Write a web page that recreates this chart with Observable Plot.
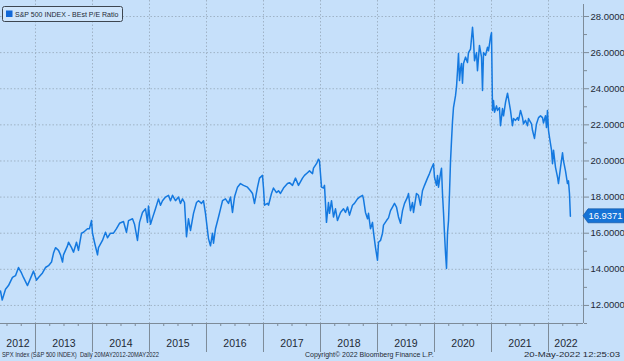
<!DOCTYPE html>
<html><head><meta charset="utf-8">
<script src="https://cdn.jsdelivr.net/npm/d3@7"></script>
<script src="https://cdn.jsdelivr.net/npm/@observablehq/plot@0.6"></script>
<style>
html,body{margin:0;padding:0;background:#c6e0fa;}
#chart{width:624px;height:361px;overflow:hidden;}
</style></head><body><div id="chart"></div>
<script>
// Decimal-year dates
const dates = [
2012.386,2012.416,2012.474,2012.526,2012.596,2012.649,2012.702,2012.754,2012.789,2012.860,2012.912,2012.965,
2013.018,2013.053,2013.123,2013.175,2013.228,2013.281,2013.316,2013.351,2013.404,2013.439,2013.474,2013.491,
2013.561,2013.579,2013.632,2013.667,2013.719,2013.754,2013.807,2013.842,2013.912,2013.947,2013.982,
2014.000,2014.035,2014.088,2014.105,2014.175,2014.228,2014.263,2014.316,2014.368,2014.421,2014.474,2014.544,
2014.596,2014.632,2014.702,2014.737,2014.789,2014.825,2014.877,2014.930,2014.965,2014.982,
2015.018,2015.053,2015.105,2015.158,2015.193,2015.228,2015.281,2015.333,2015.368,2015.404,2015.456,2015.509,
2015.544,2015.579,2015.614,2015.649,2015.684,2015.719,2015.772,2015.825,2015.860,2015.912,2015.947,2015.982,
2016.035,2016.070,2016.105,2016.123,2016.158,2016.211,2016.246,2016.281,2016.333,2016.386,2016.421,2016.456,
2016.491,2016.544,2016.596,2016.649,2016.719,2016.772,2016.807,2016.842,2016.895,2016.930,2016.982,
2017.000,2017.018,2017.070,2017.088,2017.140,2017.175,2017.228,2017.263,2017.298,2017.351,2017.421,2017.456,
2017.509,2017.561,2017.614,2017.684,2017.719,2017.772,2017.807,2017.860,2017.877,2017.930,2017.965,2017.982,
2018.018,2018.053,2018.070,2018.105,2018.140,2018.158,2018.193,2018.228,2018.263,2018.298,2018.351,2018.404,
2018.439,2018.474,2018.509,2018.561,2018.596,2018.649,2018.684,2018.737,2018.754,2018.789,2018.825,2018.842,
2018.877,2018.912,2018.930,2018.965,
2019.000,2019.018,2019.053,2019.088,2019.105,2019.158,2019.193,2019.228,2019.263,2019.298,2019.333,2019.368,
2019.404,2019.439,2019.474,2019.526,2019.544,2019.579,2019.614,2019.632,2019.684,2019.719,2019.754,2019.789,
2019.825,2019.877,2019.912,2019.947,2019.982,
2020.000,2020.035,2020.053,2020.070,2020.105,2020.123,2020.140,2020.158,2020.175,2020.193,2020.211,2020.228,
2020.246,2020.263,2020.281,2020.298,2020.316,2020.333,2020.368,2020.386,2020.404,2020.421,2020.439,2020.456,
2020.474,2020.491,2020.509,2020.544,2020.579,2020.596,2020.632,2020.667,2020.684,2020.702,2020.737,2020.754,
2020.789,2020.825,2020.842,2020.860,2020.895,2020.930,2020.947,2020.982,
2021.000,2021.018,2021.035,2021.053,2021.088,2021.105,2021.140,2021.158,2021.193,2021.211,2021.246,2021.281,
2021.298,2021.333,2021.368,2021.386,2021.421,2021.456,2021.474,2021.509,2021.544,2021.561,2021.596,2021.632,
2021.649,2021.702,2021.719,2021.754,2021.789,2021.825,2021.860,2021.895,2021.912,2021.947,2021.965,2021.982,
2022.000,2022.018,2022.053,2022.070,2022.088,2022.123,2022.158,2022.175,2022.211,2022.246,2022.263,2022.298,
2022.333,2022.350,2022.368,2022.384
];
// S&P 500 best (forward) P/E ratio
const peRatio = [
12.8,12.3,12.9,13.1,13.55,13.65,14.1,13.8,13.55,13.1,13.5,13.9,
13.4,13.55,13.8,14.1,14.2,14.4,14.9,15.2,15.05,14.8,14.4,14.8,
15.3,15.5,15.2,14.95,15.5,15.05,16.0,16.05,16.25,16.25,16.7,
16.0,15.5,14.8,15.2,15.6,16.05,15.75,16.0,16.0,16.25,16.55,16.65,
16.05,16.7,16.8,16.5,15.6,16.6,17.15,17.35,16.6,17.5,
16.5,16.85,17.35,17.9,17.55,17.8,18.0,18.1,17.8,18.1,17.8,18.0,
17.65,17.9,17.7,15.8,16.8,16.15,17.1,17.7,17.8,17.65,17.8,17.1,
15.7,15.3,16.0,15.45,16.25,16.9,17.35,17.8,17.9,17.65,18.0,17.15,
18.0,18.55,18.75,18.65,18.55,18.35,18.2,17.65,18.55,19.05,19.2,
18.5,17.55,17.65,17.55,18.2,18.5,18.25,18.35,18.2,18.5,18.75,18.8,
18.65,19.05,18.65,19.05,19.2,19.35,19.45,19.3,19.6,19.85,20.1,20.0,
18.55,18.5,18.65,16.6,17.7,17.1,17.8,16.9,17.35,16.7,17.15,17.35,
17.15,17.45,17.0,17.55,17.65,17.9,18.0,18.1,17.9,17.15,16.8,17.1,
16.25,16.6,16.05,15.2,
14.5,15.5,15.6,16.0,16.45,16.7,16.85,17.25,17.45,17.65,17.45,16.9,
16.55,17.25,17.65,18.0,18.2,17.25,17.7,17.15,18.2,18.1,17.55,18.35,
18.65,19.05,19.3,19.6,19.85,
19.1,18.65,19.2,18.55,19.3,19.6,18.2,17.15,16.0,14.9,14.05,16.0,
16.7,18.2,20.0,21.1,22.2,22.95,23.6,24.1,25.0,25.95,24.45,25.1,
25.4,24.3,25.4,25.75,25.45,26.0,26.2,27.4,26.7,25.55,26.0,25.0,
26.4,25.75,23.9,26.0,25.85,26.3,26.1,26.85,
27.1,22.8,23.35,22.7,23.05,22.8,22.95,21.95,22.9,22.5,23.25,23.75,
23.45,22.8,21.95,22.35,22.25,22.4,22.25,22.8,22.4,22.05,22.25,21.95,
22.35,22.05,21.7,21.25,22.05,22.4,22.5,22.4,22.1,22.5,21.85,22.8,
21.7,21.3,20.6,19.85,20.6,19.65,19.1,18.75,19.65,20.45,20.0,19.45,
18.75,18.9,18.2,16.9371
];
const lastValue = 16.9371;
const yearLabels = [2012,2013,2014,2015,2016,2017,2018,2019,2020,2021,2022];
const yearBreaks = [2013,2014,2015,2016,2017,2018,2019,2020,2021,2022];
const yMajorTicks = [12,14,16,18,20,22,24,26,28];
const yMinorTicks = [11,13,15,17,19,21,23,25,27];
const legendLabel = "S&P 500 INDEX - BEst P/E Ratio";
const footerLeft = "SPX Index (S&P 500 INDEX)  Daily 20MAY2012-20MAY2022";
const footerMid = "Copyright\u00A9 2022 Bloomberg Finance L.P.";
const footerRight = "20-May-2022 12:25:03";

const xDomain = [2012.386, 2022.614];
const yDomain = [11, 28.886];
const series = dates.map((t, i) => ({t, v: peRatio[i]}));
const labelPos = yearLabels.map(y => ({
  y, x: (Math.max(y, xDomain[0]) + Math.min(y + 1, xDomain[1])) / 2
}));
const quarterTicks = d3.range(2012.5, 2022.6, 0.25).filter(q => !Number.isInteger(q));

const bg = "#c6e0fa";
const gridColor = "#9fb3c6";
const axisColor = "#7d8b98";
const lineColor = "#1479e0";
const font = "Liberation Sans, Arial, sans-serif";

const plot = Plot.plot({
  width: 624, height: 361,
  marginLeft: 0, marginRight: 41, marginTop: 0, marginBottom: 38,
  style: {background: bg, fontFamily: font, color: "#1e2a36"},
  x: {type: "linear", domain: xDomain},
  y: {domain: yDomain},
  marks: [
    Plot.gridY(yMajorTicks, {stroke: gridColor, strokeOpacity: 1, strokeDasharray: "1.5,2"}),
    Plot.ruleX(yearBreaks, {stroke: gridColor, strokeDasharray: "1.5,2"}),
    Plot.axisX(yearBreaks, {tickSize: 29, stroke: axisColor, tickFormat: () => "", label: null}),
    Plot.axisX(quarterTicks, {tickSize: 3, stroke: axisColor, tickFormat: () => "", label: null}),
    Plot.ruleY([yDomain[0]], {stroke: axisColor}),
    Plot.text(labelPos, {x: "x", frameAnchor: "bottom", dy: 23, text: d => String(d.y), fontSize: 10.5, fill: "#1e2a36"}),
    Plot.axisY(yMajorTicks, {anchor: "right", tickSize: 5, tickPadding: 2, stroke: axisColor, fontSize: 9.5,
      tickFormat: d => d.toFixed(4), label: null, fill: "#1e2a36"}),
    Plot.axisY(yMinorTicks, {anchor: "right", tickSize: 3, stroke: axisColor, tickFormat: () => "", label: null}),
    Plot.ruleX([xDomain[1]], {stroke: axisColor, y1: yDomain[0], y2: yDomain[1], insetBottom: -4}),
    Plot.line(series, {x: "t", y: "v", stroke: lineColor, strokeWidth: 1.5, curve: "linear"})
  ]
});
document.getElementById("chart").appendChild(plot);

const svg = d3.select(plot);
const yS = plot.scale("y");
const yv = yS.apply(lastValue);
// last-value tag
const tag = svg.append("g").attr("text-anchor", "start");
tag.append("path")
  .attr("d", `M583,${yv} L588,${yv-7} L624,${yv-7} L624,${yv+7} L588,${yv+7} Z`)
  .attr("fill", "#1673d6").attr("stroke", "#0d4f9c").attr("stroke-width", 0.6);
tag.append("text").attr("x", 588.5).attr("y", yv + 3.3).attr("fill", "#ffffff")
  .attr("text-anchor", "start").attr("textLength", 34).attr("lengthAdjust", "spacingAndGlyphs")
  .attr("font-size", 9.5).attr("font-family", font).text(lastValue.toFixed(4));

// legend box
const lg = svg.append("g").attr("text-anchor", "start");
lg.append("rect").attr("x", 2.5).attr("y", 6.5).attr("width", 120).attr("height", 15).attr("rx", 2)
  .attr("fill", "#cfe5fb").attr("stroke", "#3d4650").attr("stroke-width", 1);
lg.append("rect").attr("x", 6).attr("y", 10.5).attr("width", 6.5).attr("height", 6.5).attr("fill", "#1168d8");
lg.append("text").attr("x", 15).attr("y", 16.8).attr("font-size", 7).attr("font-family", font)
  .attr("text-anchor", "start")
  .attr("fill", "#1e2a36").text(legendLabel);

// footer
const ft = svg.append("g").attr("font-family", font).attr("font-size", 7).attr("fill", "#1e2a36")
  .attr("text-anchor", "start");
ft.append("text").attr("x", 2).attr("y", 357).attr("text-anchor", "start").attr("font-size", 7.5)
  .attr("textLength", 157).attr("lengthAdjust", "spacingAndGlyphs").text(footerLeft);
ft.append("text").attr("x", 305).attr("y", 357).attr("text-anchor", "start").text(footerMid);
ft.append("text").attr("x", 524).attr("y", 357).attr("text-anchor", "start")
  .attr("font-size", 7.5).attr("textLength", 96).attr("lengthAdjust", "spacingAndGlyphs").text(footerRight);
</script>
</body></html>
